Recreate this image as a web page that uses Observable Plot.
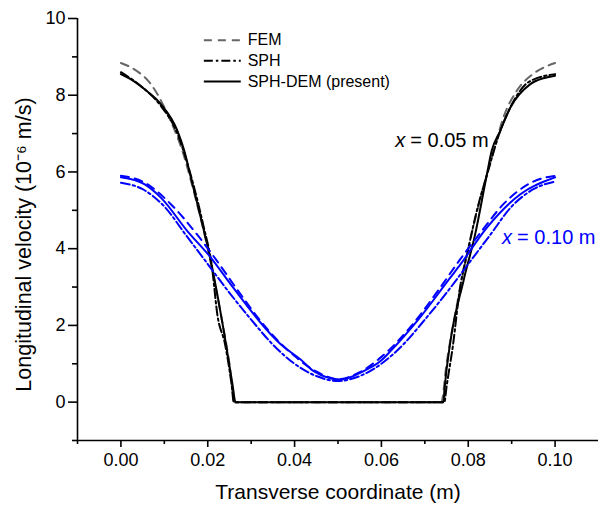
<!DOCTYPE html>
<html><head><meta charset="utf-8">
<script src="https://cdn.jsdelivr.net/npm/d3@7"></script>
<script src="https://cdn.jsdelivr.net/npm/@observablehq/plot@0.6"></script>
<style>body{margin:0;background:#fff}</style>
</head><body><div id="chart"></div>
<script>
// ---- data: x = 0.05 m (black / gray) ----
const fem05X = [0, 0.003, 0.0069, 0.0111, 0.014, 0.017, 0.020, 0.023, 0.025, 0.0262, 0.0738, 0.075, 0.077, 0.080, 0.083, 0.086, 0.0881, 0.0912, 0.095, 0.097, 0.100];
const fem05V = [8.84, 8.68, 8.29, 7.42, 6.60, 5.40, 4.00, 2.30, 1.00, 0, 0, 1.00, 2.30, 4.00, 5.40, 6.60, 7.42, 8.12, 8.56, 8.70, 8.84];
const sph05X = [0, 0.005, 0.009, 0.013, 0.016, 0.019, 0.021, 0.0222, 0.024, 0.0255, 0.0260, 0.0745, 0.0750, 0.0765, 0.078, 0.080, 0.082, 0.0845, 0.087, 0.090, 0.094, 0.100];
const sph05V = [8.60, 8.20, 7.75, 7.00, 5.95, 4.60, 3.50, 2.29, 1.50, 0.45, 0, 0, 0.40, 1.50, 2.90, 4.00, 5.00, 6.00, 6.95, 7.75, 8.35, 8.55];
const dem05X = [0, 0.0025, 0.0054, 0.0092, 0.013, 0.0146, 0.0161, 0.018, 0.0207, 0.0237, 0.0257, 0.0264, 0.0743, 0.0745, 0.0759, 0.0789, 0.0816, 0.0843, 0.0854, 0.0874, 0.0897, 0.0943, 0.0975, 0.100];
const dem05V = [8.55, 8.40, 8.16, 7.77, 7.08, 6.55, 5.86, 4.99, 3.68, 1.85, 0.46, 0, 0, 0.29, 1.59, 3.16, 4.38, 5.94, 6.55, 7.08, 7.68, 8.29, 8.45, 8.51];
// ---- data: x = 0.10 m (blue) ----
const fem10X = [0, 0.005, 0.0115, 0.0169, 0.022, 0.027, 0.033, 0.040, 0.045, 0.050, 0.055, 0.060, 0.067, 0.073, 0.078, 0.0831, 0.0881, 0.095, 0.100];
const fem10V = [5.90, 5.75, 5.16, 4.46, 3.70, 2.90, 2.00, 1.20, 0.80, 0.60, 0.78, 1.18, 2.00, 2.90, 3.70, 4.46, 5.16, 5.75, 5.90];
const sph10X = [0, 0.005, 0.010, 0.015, 0.020, 0.025, 0.030, 0.035, 0.040, 0.045, 0.050, 0.055, 0.060, 0.065, 0.070, 0.075, 0.080, 0.085, 0.090, 0.095, 0.100];
const sph10V = [5.72, 5.55, 5.10, 4.35, 3.60, 2.85, 2.15, 1.50, 1.00, 0.68, 0.55, 0.68, 1.00, 1.50, 2.15, 2.85, 3.60, 4.35, 5.10, 5.55, 5.75];
const dem10X = [0, 0.0054, 0.0092, 0.0153, 0.0207, 0.0253, 0.0345, 0.0368, 0.0414, 0.0444, 0.0506, 0.0559, 0.0598, 0.0621, 0.0682, 0.0759, 0.0782, 0.0843, 0.092, 0.100];
const dem10V = [5.86, 5.68, 5.33, 4.46, 3.77, 3.07, 1.77, 1.51, 1.11, 0.81, 0.59, 0.81, 1.07, 1.33, 2.11, 3.25, 3.59, 4.55, 5.42, 5.86];

// ---- axes ----
const xMajor = [0, 0.02, 0.04, 0.06, 0.08, 0.10];
const xMinor = [-0.01, 0.01, 0.03, 0.05, 0.07, 0.09];
const yMajor = [0, 2, 4, 6, 8, 10];
const yMinor = [-1, 1, 3, 5, 7, 9];
const xDomain = [-0.01, 0.11];
const yDomain = [-1, 10];
const xTitle = "Transverse coordinate (m)";
const yTitle = "Longitudinal velocity (10\u207B\u2076 m/s)";

// ---- legend / labels ----
const legendNames = ["FEM", "SPH", "SPH-DEM (present)"];
const legendY = [9.43, 8.90, 8.36];
const legendX = [0.0191, 0.0276, 0.0292];
const annotations = [
  {x: 0.0632, v: 6.81, text: "= 0.05 m", color: "black"},
  {x: 0.0878, v: 4.28, text: "= 0.10 m", color: "#0000ff"}
];

const gray = "#666666", black = "#000000", blue = "#0000ff";
const dashFEM = "8,6", dashSPH = "9,3,2.5,3";
const zip = (xs, vs) => xs.map((x, i) => ({x, v: vs[i]}));
const series = [
  {d: zip(fem05X, fem05V), stroke: gray, dash: dashFEM},
  {d: zip(sph05X, sph05V), stroke: black, dash: dashSPH},
  {d: zip(dem05X, dem05V), stroke: black, dash: null},
  {d: zip(fem10X, fem10V), stroke: blue, dash: dashFEM},
  {d: zip(sph10X, sph10V), stroke: blue, dash: dashSPH},
  {d: zip(dem10X, dem10V), stroke: blue, dash: null}
];
const legendStyles = [
  {stroke: gray, dash: dashFEM}, {stroke: black, dash: dashSPH}, {stroke: black, dash: null}
];
const legendRows = legendNames.map((n, i) => ({name: n, y: legendY[i], ...legendStyles[i]}));

const marks = [];
for (const s of series) {
  marks.push(Plot.line(s.d, {x: "x", y: "v", stroke: s.stroke, strokeWidth: 2, strokeDasharray: s.dash || undefined, curve: "monotone-x"}));
}
for (const r of legendRows) {
  marks.push(Plot.link([r], {x1: () => legendX[0], x2: () => legendX[1], y1: "y", y2: "y", stroke: r.stroke, strokeWidth: 2, strokeDasharray: r.dash || undefined}));
}
marks.push(Plot.text(legendRows, {x: () => legendX[2], y: "y", text: "name", textAnchor: "start", fontSize: 16, fill: "black"}));
marks.push(Plot.text(annotations, {x: "x", y: "v", text: () => "x", textAnchor: "start", fontSize: 20, fontStyle: "italic", fill: "color"}));
marks.push(Plot.text(annotations, {x: "x", y: "v", text: "text", textAnchor: "start", dx: 15, fontSize: 20, fill: "color"}));

// axes
marks.push(Plot.ruleX([xDomain[0]], {stroke: "black", strokeWidth: 1.6}));
marks.push(Plot.ruleY([yDomain[0]], {stroke: "black", strokeWidth: 1.6}));
marks.push(Plot.axisX({ticks: xMajor, tickSize: 7, tickPadding: 6, tickFormat: d3.format(".2f"), label: null, fontSize: 18, strokeWidth: 1.6}));
marks.push(Plot.axisX({ticks: xMinor, tickSize: 4, tickFormat: null, text: null, label: null, strokeWidth: 1.6}));
marks.push(Plot.axisY({ticks: yMajor, tickSize: 9, tickPadding: 3, tickFormat: d3.format("d"), label: null, fontSize: 18, strokeWidth: 1.6}));
marks.push(Plot.axisY({ticks: yMinor, tickSize: 5, text: null, label: null, strokeWidth: 1.6}));
marks.push(Plot.text([xTitle], {frameAnchor: "bottom", text: d => d, dy: 52, lineAnchor: "middle", textAnchor: "middle", fontSize: 21}));
marks.push(Plot.text([yTitle], {frameAnchor: "left", text: d => d, dx: -53, dy: 15, rotate: -90, lineAnchor: "middle", textAnchor: "middle", fontSize: 21.5}));

const chart = Plot.plot({
  width: 598, height: 507,
  marginLeft: 77, marginRight: 0, marginTop: 18, marginBottom: 67,
  x: {domain: xDomain},
  y: {domain: yDomain},
  style: {fontFamily: "'Liberation Sans', Arial, sans-serif", fontSize: "17px", color: "black", background: "white"},
  marks
});
document.getElementById("chart").appendChild(chart);
</script>
</body></html>
